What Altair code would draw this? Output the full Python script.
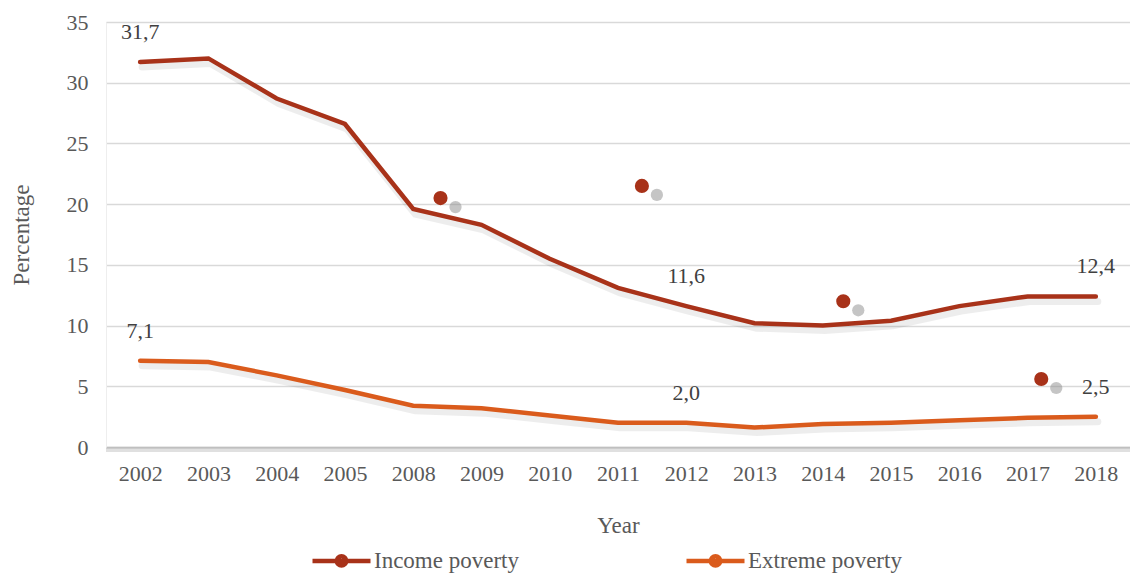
import json
import altair as alt
import pandas as pd

years = ["2002", "2003", "2004", "2005", "2008", "2009", "2010", "2011",
         "2012", "2013", "2014", "2015", "2016", "2017", "2018"]
income = [31.7, 32.0, 28.7, 26.6, 19.6, 18.3, 15.5, 13.1, 11.6, 10.2, 10.0, 10.4, 11.6, 12.4, 12.4]
extreme = [7.1, 7.0, 5.9, 4.7, 3.4, 3.2, 2.6, 2.0, 2.0, 1.6, 1.9, 2.0, 2.2, 2.4, 2.5]
series_names = ["Income poverty", "Extreme poverty"]
series_colors = ["#A83219", "#DA5B1C"]

# labelled points: (series, year index)
label_points = [("Income poverty", 0), ("Income poverty", 8), ("Income poverty", 14),
                ("Extreme poverty", 0), ("Extreme poverty", 8), ("Extreme poverty", 14)]

# stray marker dots in the picture (position in year-index units, value)
dot_pos = [4.4, 7.35, 10.3, 13.2]
dot_val = [20.5, 21.5, 12.0, 5.6]

FONT = "Liberation Serif"
TXT = "#595959"

rows = []
for name, vals in zip(series_names, [income, extreme]):
    for i, (y, v) in enumerate(zip(years, vals)):
        rows.append({"idx": i, "year": y, "value": v, "series": name})
df = pd.DataFrame(rows)

lab_rows = []
for name, i in label_points:
    v = (income if name == series_names[0] else extreme)[i]
    lab_rows.append({"idx": i, "value": v, "series": name,
                     "label": f"{v:.1f}".replace(".", ",")})
df_lab = pd.DataFrame(lab_rows)

df_dot = pd.DataFrame({"idx": dot_pos, "value": dot_val})
df_base = pd.DataFrame({"value": [0]})

label_expr = json.dumps(years) + "[datum.value]"

x_enc = alt.X("idx:Q",
              scale=alt.Scale(domain=[-0.5, len(years) - 0.5], nice=False, zero=False),
              axis=alt.Axis(values=list(range(len(years))), labelExpr=label_expr,
                            title="Year", grid=False, ticks=False,
                            domainColor="#BFBFBF", domainWidth=1.5,
                            labelFont=FONT, labelFontSize=22, labelColor=TXT,
                            labelPadding=16, titleFont=FONT, titleFontSize=23,
                            titleFontWeight="normal", titleColor=TXT, titlePadding=30))
y_enc = alt.Y("value:Q",
              scale=alt.Scale(domain=[0, 35], nice=False),
              axis=alt.Axis(values=list(range(0, 36, 5)), title="Percentage",
                            grid=True, gridColor="#D9D9D9", gridWidth=1.5,
                            ticks=False, domain=True, domainColor="#EEEEEE",
                            labelFont=FONT, labelFontSize=22, labelColor=TXT,
                            labelPadding=18, titleFont=FONT, titleFontSize=23,
                            titleFontWeight="normal", titleColor=TXT, titlePadding=33))

color_scale = alt.Scale(domain=series_names, range=series_colors)

shadow = alt.Chart(df).mark_line(strokeWidth=7, color="#000000", opacity=0.07,
                                 xOffset=2, yOffset=5, strokeCap="round").encode(
    x=x_enc, y=y_enc, detail="series:N")

axis_shadow = alt.Chart(df_base).mark_rule(color="#000000", opacity=0.12, strokeWidth=4,
                                           yOffset=3).encode(
    y=alt.Y("value:Q"))

lines = alt.Chart(df).mark_line(strokeWidth=4.5, strokeCap="round").encode(
    x=x_enc, y=y_enc,
    color=alt.Color("series:N", scale=color_scale, sort=series_names,
                    legend=alt.Legend(
                        title=None, orient="none", direction="horizontal",
                        legendX=204, legendY=507,
                        symbolType="M -1 0 L 1 0 M 0.16 0 A 0.16 0.16 0 1 1 -0.16 0 A 0.16 0.16 0 1 1 0.16 0",
                        symbolSize=3364, symbolStrokeWidth=4.5,
                        labelFont=FONT, labelFontSize=23, labelColor=TXT,
                        labelOffset=1, columnPadding=158)))

texts = alt.Chart(df_lab).mark_text(dy=-30, font=FONT, fontSize=22, color="#404040").encode(
    x="idx:Q", y="value:Q", text="label:N")

dot_shadow = alt.Chart(df_dot).mark_circle(size=150, color="#8C8C8C", opacity=0.5,
                                           xOffset=15, yOffset=9).encode(
    x="idx:Q", y="value:Q")
dots = alt.Chart(df_dot).mark_circle(size=200, color="#A83219", opacity=1).encode(
    x="idx:Q", y="value:Q")

chart = alt.layer(axis_shadow, shadow, lines, texts, dot_shadow, dots).properties(
    width=1024, height=425,
    autosize=alt.AutoSizeParams(type="none"),
    padding={"left": 106, "top": 22, "right": 0, "bottom": 126},
).configure_view(stroke=None).configure(background="white")

chart.save("out.html", embed_options={"renderer": "svg", "actions": False})
